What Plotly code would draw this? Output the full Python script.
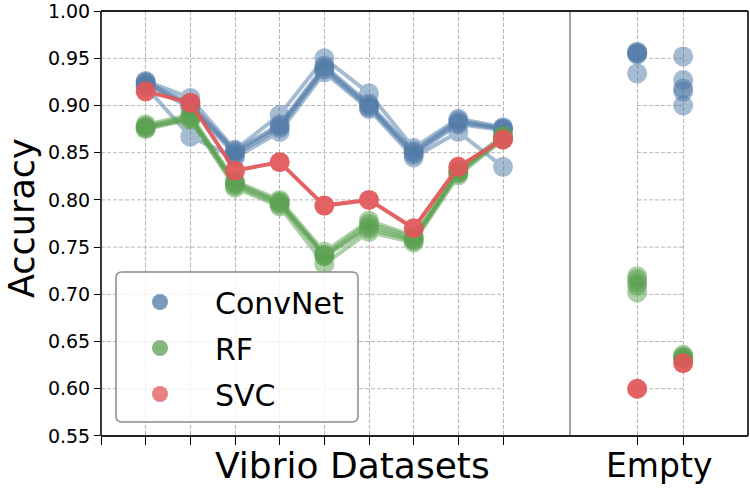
import plotly.graph_objects as go

# ---------------- data ----------------
dataset_pos = [1, 2, 3, 4, 5, 6, 7, 8, 9]
empty_pos = [0, 1]
y_ticks = [0.55, 0.60, 0.65, 0.70, 0.75, 0.80, 0.85, 0.90, 0.95, 1.00]
y_tick_labels = ["0.55", "0.60", "0.65", "0.70", "0.75", "0.80", "0.85", "0.90", "0.95", "1.00"]

convnet_runs = [
    [0.926, 0.908, 0.853, 0.890, 0.950, 0.913, 0.855, 0.886, 0.877],
    [0.925, 0.902, 0.852, 0.880, 0.942, 0.902, 0.852, 0.884, 0.876],
    [0.924, 0.900, 0.850, 0.878, 0.940, 0.900, 0.850, 0.882, 0.875],
    [0.922, 0.898, 0.848, 0.876, 0.938, 0.898, 0.848, 0.880, 0.874],
    [0.920, 0.867, 0.845, 0.872, 0.935, 0.896, 0.845, 0.872, 0.835],
]
rf_runs = [
    [0.880, 0.890, 0.820, 0.800, 0.745, 0.778, 0.762, 0.832, 0.868],
    [0.878, 0.888, 0.818, 0.798, 0.742, 0.775, 0.760, 0.830, 0.867],
    [0.877, 0.887, 0.817, 0.797, 0.741, 0.772, 0.758, 0.829, 0.866],
    [0.876, 0.886, 0.815, 0.795, 0.740, 0.769, 0.757, 0.828, 0.865],
    [0.875, 0.885, 0.813, 0.793, 0.732, 0.766, 0.755, 0.826, 0.864],
]
svc_runs = [
    [0.915, 0.903, 0.831, 0.840, 0.794, 0.800, 0.770, 0.835, 0.864],
]

convnet_empty = [[0.957, 0.952], [0.956, 0.927], [0.955, 0.918], [0.954, 0.915], [0.934, 0.900]]
rf_empty = [[0.719, 0.636], [0.716, 0.634], [0.712, 0.633], [0.709, 0.632], [0.702, 0.631]]
svc_empty = [[0.600, 0.627]]

names = ["ConvNet", "RF", "SVC"]
colors = ["#4e79a7", "#59a14f", "#e15759"]
run_opacity = [0.5, 0.5, 0.93]

FONT = "DejaVu Sans"
GRID = "#b5b5b5"

fig = go.Figure()

for name, color, op, runs, eruns in zip(names, colors, run_opacity,
                                         [convnet_runs, rf_runs, svc_runs],
                                         [convnet_empty, rf_empty, svc_empty]):
    for r in runs:
        fig.add_trace(go.Scatter(
            x=dataset_pos, y=r, mode="lines+markers", xaxis="x", yaxis="y",
            line=dict(color=color, width=4),
            marker=dict(color=color, size=20, line=dict(width=0)),
            opacity=op, showlegend=False, hoverinfo="skip"))
    for r in eruns:
        fig.add_trace(go.Scatter(
            x=empty_pos, y=r, mode="markers", xaxis="x2", yaxis="y",
            marker=dict(color=color, size=20, line=dict(width=0)),
            opacity=op, showlegend=False, hoverinfo="skip"))

# legend entries
for i, (name, color) in enumerate(zip(names, colors)):
    fig.add_trace(go.Scatter(
        x=[None], y=[None], mode="markers", name=name, xaxis="x", yaxis="y",
        marker=dict(color=color, size=20, line=dict(width=0)),
        opacity=0.75, legendgroup=name))

shapes = []
# horizontal gridlines that span only the data extent of each panel
for yv in y_ticks[1:-1]:
    shapes.append(dict(type="line", xref="x", yref="y", x0=0, x1=dataset_pos[-1], y0=yv, y1=yv,
                       line=dict(color=GRID, width=1, dash="4px,2px"), layer="below"))
    shapes.append(dict(type="line", xref="x2", yref="y", x0=empty_pos[0], x1=empty_pos[-1], y0=yv, y1=yv,
                       line=dict(color=GRID, width=1, dash="4px,2px"), layer="below"))

W, H = 750, 488
ML, MR, MT, MB = 101, 2, 11, 52
pw, ph = W - ML - MR, H - MT - MB
split = (570 - ML) / pw

def px(xp):
    return (xp - ML) / pw

def py(yp):
    return (MT + ph - yp) / ph

# panel divider
shapes.append(dict(type="line", xref="paper", yref="paper", x0=split, x1=split, y0=0, y1=1,
                   line=dict(color="#444444", width=1)))
# frame as four lines
frame = dict(color="#222222", width=1.8)
shapes.append(dict(type="line", xref="paper", yref="paper", x0=0, x1=1, y0=1, y1=1, line=frame))
shapes.append(dict(type="line", xref="paper", yref="paper", x0=0, x1=1, y0=0, y1=0, line=frame))
shapes.append(dict(type="line", xref="paper", yref="paper", x0=0, x1=0, y0=0, y1=1, line=frame))
shapes.append(dict(type="line", xref="paper", yref="paper", x0=1, x1=1, y0=0, y1=1, line=frame))

# legend frame (rounded)
lx0, lx1, ly0, ly1 = px(116), px(358), py(422), py(272)
rad = 6
rx, ry = rad / pw, rad / ph
path = (f"M {lx0+rx},{ly0} L {lx1-rx},{ly0} Q {lx1},{ly0} {lx1},{ly0+ry} "
        f"L {lx1},{ly1-ry} Q {lx1},{ly1} {lx1-rx},{ly1} L {lx0+rx},{ly1} "
        f"Q {lx0},{ly1} {lx0},{ly1-ry} L {lx0},{ly0+ry} Q {lx0},{ly0} {lx0+rx},{ly0} Z")
shapes.append(dict(type="path", xref="paper", yref="paper", path=path,
                   fillcolor="rgba(255,255,255,0.8)", line=dict(color="#8a8a8a", width=1.5),
                   layer="above"))

annotations = [
    dict(text="Vibrio Datasets", xref="paper", yref="paper", x=px(352), y=py(465),
         xanchor="center", yanchor="middle", showarrow=False, font=dict(family=FONT, size=36, color="black")),
    dict(text="Empty", xref="paper", yref="paper", x=px(659), y=py(465),
         xanchor="center", yanchor="middle", showarrow=False, font=dict(family=FONT, size=33, color="black")),
    dict(text="Accuracy", xref="paper", yref="paper", x=px(22), y=py(218), textangle=-90,
         xanchor="center", yanchor="middle", showarrow=False, font=dict(family=FONT, size=35, color="black")),
]

fig.update_layout(
    width=W, height=H,
    margin=dict(l=ML, r=MR, t=MT, b=MB, autoexpand=False),
    plot_bgcolor="white", paper_bgcolor="white",
    font=dict(family=FONT, color="black"),
    xaxis=dict(domain=[0, split], range=[0, 10.5], tickvals=[0] + dataset_pos, ticktext=[""] * 10,
               showgrid=True, gridcolor=GRID, griddash="4px,2px", gridwidth=1,
               ticks="outside", ticklen=8, tickwidth=1.2, tickcolor="black",
               zeroline=False, showline=False, anchor="y"),
    xaxis2=dict(domain=[split, 1], range=[-1.46, 2.41], tickvals=empty_pos, ticktext=["", ""],
                showgrid=True, gridcolor=GRID, griddash="4px,2px", gridwidth=1,
                ticks="outside", ticklen=8, tickwidth=1.2, tickcolor="black",
                zeroline=False, showline=False, anchor="y"),
    yaxis=dict(range=[0.5499, 1.0001], tickvals=y_ticks, ticktext=y_tick_labels,
               showgrid=False, zeroline=False, showline=False, ticklabeloverflow="allow",
               ticks="outside", ticklen=6, tickwidth=1.2, tickcolor="black",
               tickfont=dict(family=FONT, size=19, color="black"), anchor="x"),
    legend=dict(x=px(105), y=py(276), xanchor="left", yanchor="top",
                bgcolor="rgba(0,0,0,0)", borderwidth=0, itemwidth=100,
                font=dict(family=FONT, size=30, color="black"), tracegroupgap=4,
                itemclick=False, itemdoubleclick=False),
    shapes=shapes,
    annotations=annotations,
    showlegend=True,
)

fig.write_html("out.html", config={"displayModeBar": False},
               post_script="document.body.style.margin='0';document.body.style.overflow='hidden';")
